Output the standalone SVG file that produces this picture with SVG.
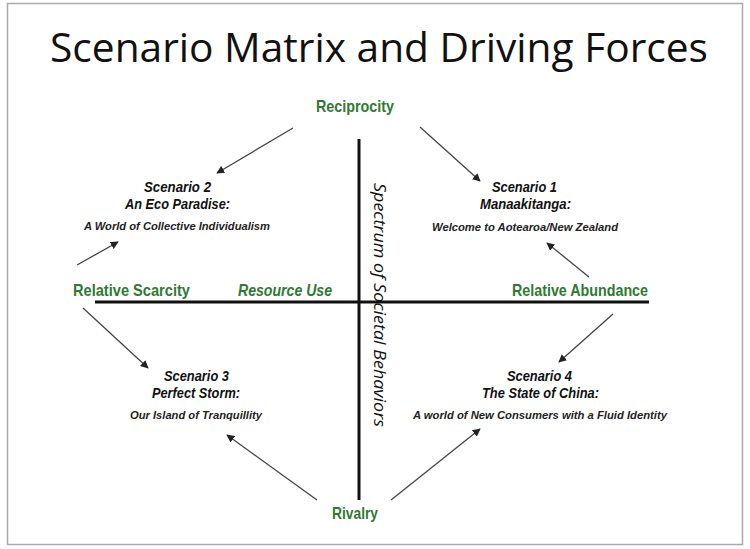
<svg xmlns="http://www.w3.org/2000/svg" width="750" height="549" viewBox="0 0 750 549">
<defs>
<marker id="ah" viewBox="0 0 10 10" refX="9" refY="5" markerWidth="8" markerHeight="8" markerUnits="userSpaceOnUse" orient="auto">
<path d="M0,0 L10,5 L0,10 z" fill="#222"/>
</marker>
<style>
.title{font-family:"Open Sans","Noto Sans","Liberation Sans",sans-serif;font-size:41px;fill:#111}
.force{font-family:"Liberation Sans",Arial,sans-serif;font-weight:bold;font-size:17px;fill:#2f7a32}
.forcei{font-family:"Liberation Sans",Arial,sans-serif;font-weight:bold;font-style:italic;font-size:17px;fill:#2f7a32}
.sh{font-family:"Liberation Sans",Arial,sans-serif;font-weight:bold;font-style:italic;font-size:14.5px;fill:#111}
.ss{font-family:"Liberation Sans",Arial,sans-serif;font-weight:bold;font-style:italic;font-size:11.5px;fill:#222}
.vert{font-family:"Open Sans","Noto Sans",sans-serif;font-style:italic;font-size:17px;fill:#111}
.axis{stroke:#111;stroke-width:3;fill:none}
.arr{stroke:#444;stroke-width:1.3;fill:none;marker-end:url(#ah)}
</style>
</defs>
<rect x="7.5" y="3.5" width="735" height="541" fill="#fff" stroke="#aaa" stroke-width="1.5"/>
<text class="title" x="50" y="62" textLength="658" lengthAdjust="spacingAndGlyphs">Scenario Matrix and Driving Forces</text>

<g id="axes">
<line class="axis" x1="95" y1="302" x2="649" y2="302"/>
<line class="axis" x1="359" y1="139" x2="359" y2="500"/>
<text class="vert" transform="translate(374,183) rotate(90)" textLength="244" lengthAdjust="spacingAndGlyphs">Spectrum of Societal Behaviors</text>
</g>

<g id="connectors">
<line class="arr" x1="293" y1="128" x2="217" y2="173"/>
<line class="arr" x1="77" y1="265" x2="118" y2="242"/>
<line class="arr" x1="420" y1="127" x2="480" y2="181"/>
<line class="arr" x1="589" y1="277" x2="547" y2="243"/>
<line class="arr" x1="83" y1="308" x2="148" y2="368"/>
<line class="arr" x1="317" y1="500" x2="227" y2="435"/>
<line class="arr" x1="613" y1="314" x2="559" y2="362"/>
<line class="arr" x1="391" y1="500" x2="480" y2="429"/>
</g>

<g id="reciprocity"><text class="force" x="316" y="112" textLength="78" lengthAdjust="spacingAndGlyphs">Reciprocity</text></g>
<g id="relative-scarcity"><text class="force" x="73" y="296" textLength="117" lengthAdjust="spacingAndGlyphs">Relative Scarcity</text></g>
<g id="resource-use"><text class="forcei" x="238" y="296" textLength="94" lengthAdjust="spacingAndGlyphs">Resource Use</text></g>
<g id="relative-abundance"><text class="force" x="512" y="296" textLength="136" lengthAdjust="spacingAndGlyphs">Relative Abundance</text></g>
<g id="rivalry"><text class="force" x="332" y="519" textLength="46" lengthAdjust="spacingAndGlyphs">Rivalry</text></g>

<g id="scenario2">
<text class="sh" x="144" y="192" textLength="67" lengthAdjust="spacingAndGlyphs">Scenario 2</text>
<text class="sh" x="125" y="209" textLength="105" lengthAdjust="spacingAndGlyphs">An Eco Paradise:</text>
<text class="ss" x="84" y="230" textLength="186" lengthAdjust="spacingAndGlyphs">A World of Collective Individualism</text>
</g>
<g id="scenario1">
<text class="sh" x="492" y="192" textLength="65" lengthAdjust="spacingAndGlyphs">Scenario 1</text>
<text class="sh" x="480" y="209" textLength="91" lengthAdjust="spacingAndGlyphs">Manaakitanga:</text>
<text class="ss" x="432" y="231" textLength="186" lengthAdjust="spacingAndGlyphs">Welcome to Aotearoa/New Zealand</text>
</g>
<g id="scenario3">
<text class="sh" x="164" y="381" textLength="65" lengthAdjust="spacingAndGlyphs">Scenario 3</text>
<text class="sh" x="152" y="398" textLength="88" lengthAdjust="spacingAndGlyphs">Perfect Storm:</text>
<text class="ss" x="130" y="419" textLength="132" lengthAdjust="spacingAndGlyphs">Our Island of Tranquillity</text>
</g>
<g id="scenario4">
<text class="sh" x="507" y="381" textLength="65" lengthAdjust="spacingAndGlyphs">Scenario 4</text>
<text class="sh" x="482" y="398" textLength="117" lengthAdjust="spacingAndGlyphs">The State of China:</text>
<text class="ss" x="413" y="419" textLength="254" lengthAdjust="spacingAndGlyphs">A world of New Consumers with a Fluid Identity</text>
</g>
</svg>
